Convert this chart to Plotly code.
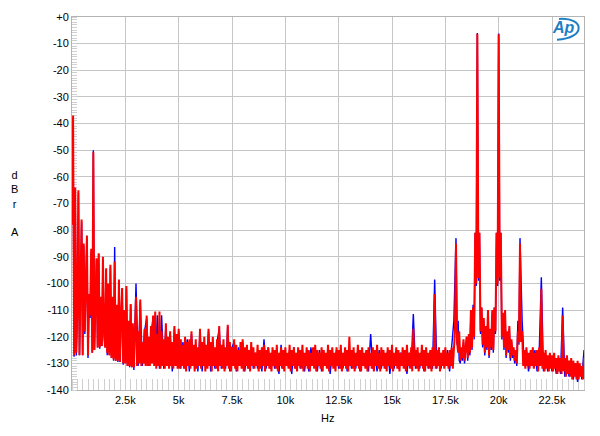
import plotly.graph_objects as go

# ---------------- data ----------------
# FFT frequency bins (Hz)
F_LOW = list(range(0, 3000, 50))          # shared low band
F_PEAK = list(range(18000, 21050, 50))    # shared band around the two tones
F_MID_R = list(range(3000, 18000, 50))    # red channel, fine bins
F_HIGH_R = list(range(21050, 24050, 50))
F_MID_B = list(range(3000, 18000, 100))   # blue channel, coarser bins
F_HIGH_B = list(range(21100, 24100, 100))

FREQ_RED = F_LOW + F_MID_R + F_PEAK + F_HIGH_R
FREQ_BLUE = F_LOW + F_MID_B + F_PEAK + F_HIGH_B

# red channel (dBrA)
RED_LOW = [
    -78, -37, -127, -64, -126, -110, -65, -127, -100, -76,
    -127, -85, -118, -95, -82, -127, -104, -112, -87, -126,
    -50.8, -125, -100, -90.6, -124, -88.7, -124, -105, -123.5, -90,
    -118, -124, -94.3, -126, -100, -127, -93, -128, -105, -128.5,
    -91.8, -129, -108, -129, -98.5, -129.5, -112, -101.7, -130, -110,
    -130, -101, -131, -114, -131, -107.7, -131.5, -115, -131.5, -112,
]
RED_MID = [
    -105, -131, -118, -130, -106, -131, -122, -130, -117, -131,
    -112, -131, -120, -131, -116, -130, -112, -131, -110.5, -132,
    -119, -131, -110.5, -132, -118, -131, -121, -132, -115, -131,
    -120, -132, -118, -131, -122, -132, -116, -131, -119, -132,
    -117, -132, -121, -131, -123, -132, -120, -133, -122, -131,
    -121, -132, -118, -131, -123, -133, -121, -132, -124, -131,
    -117, -132, -122, -131, -120, -133, -123, -132, -117, -131,
    -122, -133, -120, -131, -124, -132, -121, -133, -116, -131,
    -123, -132, -121, -133, -124, -131, -115.5, -132, -122, -133,
    -124, -131, -121, -132, -123, -133, -125, -131, -122, -132,
    -121, -133, -124, -131, -123, -132, -125, -133, -122, -131,
    -124, -132, -126, -131, -123, -133, -125, -132, -124, -131,
    -123, -133, -125, -131, -124, -132, -126, -133, -124, -131,
    -125, -132, -123, -133, -126, -131, -124, -132, -125, -133,
    -124, -131, -126, -132, -123, -133, -125, -131, -124, -132,
    -126, -133, -124, -131, -125, -132, -123, -133, -126, -131,
    -124, -132, -125, -133, -126, -131, -124, -132, -123, -133,
    -125, -131, -126, -132, -124, -133, -125, -131, -126, -132,
    -123, -133, -125, -131, -124, -132, -126, -133, -124, -131,
    -125, -132, -123, -133, -126, -131, -124, -132, -125, -133,
    -120, -131, -125, -132, -124, -133, -126, -131, -123, -132,
    -125, -133, -124, -131, -126, -132, -125, -133, -124, -131,
    -126, -132, -124, -133, -125, -131, -123, -132, -126, -133,
    -124, -131, -125, -132, -126, -133, -124, -131, -125, -132,
    -123, -133, -126, -131, -124, -132, -125, -133, -126, -131,
    -124, -132, -125, -133, -123, -131, -126, -132, -124, -133,
    -117, -131, -125, -132, -124, -133, -126, -131, -123, -132,
    -125, -133, -124, -131, -126, -132, -125, -133, -124, -131,
    -104, -132, -125, -131, -124, -133, -126, -131, -125, -132,
    -124, -131, -126, -132, -125, -131, -124, -132, -123, -118,
]
RED_PEAK = [
    -85, -122, -126, -118, -129, -124, -128, -121, -129, -125,
    -120, -128, -119, -126, -110, -124, -109, -120, -81, -100,
    -6.3, -98, -81, -118, -109, -123, -113, -126, -116, -124,
    -110, -127, -117, -124, -110, -125, -109, -118, -81, -100,
    -6.5, -98, -81, -120, -111, -124, -110, -127, -118, -125,
    -116, -128, -121, -127, -124, -129, -125, -130, -118, -122,
    -85,
]
RED_HIGH = [
    -122, -118, -131, -125, -132, -124, -131, -126, -132, -125,
    -131, -124, -132, -126, -131, -125, -133, -124, -131, -102,
    -132, -126, -133, -125, -132, -127, -133, -126, -132, -127,
    -133, -126, -132, -128, -134, -127, -133, -128, -134, -112,
    -133, -128, -135, -127, -134, -129, -135, -128, -136, -129,
    -135, -130, -136, -129, -136, -130, -135, -131, -136, -128,
]

# blue channel (dBrA)
BLUE_LOW = [
    -76, -38, -127.5, -65, -127, -111, -66, -127, -101, -77,
    -127, -86, -119, -96, -83, -128, -105, -113, -88, -126,
    -50, -125, -101, -91, -124, -89, -124.5, -106, -123.5, -91,
    -119, -124, -95, -127, -101, -127, -94, -128, -106, -129,
    -86.3, -129, -109, -129.5, -99, -129.5, -113, -102, -130.5, -111,
    -130, -102, -131, -115, -131.5, -108, -131.5, -116, -132.5, -113,
]
BLUE_MID = [
    -100, -131, -107, -131, -118, -113, -131, -119, -113, -130,
    -112, -132, -112, -132, -116, -131, -119, -133, -117, -131,
    -118, -132, -122, -132, -121, -133, -119, -131, -123, -133,
    -118, -133, -122, -131, -118, -133, -123, -132, -122, -117,
    -132, -123, -132, -116, -133, -124, -122, -133, -124, -131,
    -122, -133, -125, -132, -124, -132, -126, -132, -125, -133,
    -121, -132, -124, -132, -126, -132, -125, -134, -123, -132,
    -126, -131, -125, -134, -124, -132, -126, -132, -125, -133,
    -126, -133, -124, -131, -126, -133, -125, -133, -126, -131,
    -125, -134, -126, -131, -125, -132, -126, -132, -125, -133,
    -125, -132, -126, -132, -125, -133, -126, -131, -125, -133,
    -119, -132, -126, -133, -125, -132, -126, -132, -125, -134,
    -126, -132, -125, -132, -126, -131, -125, -134, -126, -131,
    -111.5, -132, -126, -132, -125, -133, -126, -132, -125, -132,
    -98.5, -132, -125, -132, -126, -131, -125, -133, -124, -114,
]
BLUE_PEAK = [
    -83, -123, -114, -129, -130, -125, -129, -122, -130, -126,
    -120, -129, -120, -127, -111, -125, -108, -121, -81, -101,
    -6, -99, -81, -119, -109, -124, -114, -127, -117, -125,
    -111, -128, -118, -125, -111, -126, -109, -119, -81, -101,
    -6.2, -99, -81, -121, -112, -125, -111, -128, -119, -126,
    -117, -129, -122, -128, -125, -130, -126, -131, -114, -123,
    -83,
]
BLUE_HIGH = [
    -114, -131, -125, -133, -126, -131, -125, -133, -126, -97.7,
    -133, -127, -133, -127, -133, -128, -134, -128, -134, -109,
    -135, -129, -135, -129, -136, -130, -137, -131, -136, -125,
]

RED = RED_LOW + RED_MID + RED_PEAK + RED_HIGH
BLUE = BLUE_LOW + BLUE_MID + BLUE_PEAK + BLUE_HIGH

X_TICKS = [2500, 5000, 7500, 10000, 12500, 15000, 17500, 20000, 22500]
X_LABELS = ["2.5k", "5k", "7.5k", "10k", "12.5k", "15k", "17.5k", "20k", "22.5k"]
Y_TICKS = [0, -10, -20, -30, -40, -50, -60, -70, -80, -90, -100, -110, -120, -130, -140]
Y_LABELS = ["+0", "-10", "-20", "-30", "-40", "-50", "-60", "-70", "-80", "-90",
            "-100", "-110", "-120", "-130", "-140"]

# ---------------- figure ----------------
FONT = "Liberation Sans, Arial, sans-serif"
GRID = "#c6c6c6"

fig = go.Figure()
fig.add_trace(go.Scatter(x=FREQ_BLUE, y=BLUE, mode="lines",
                         line=dict(color="#0000ff", width=1.4), showlegend=False))
fig.add_trace(go.Scatter(x=FREQ_RED, y=RED, mode="lines",
                         line=dict(color="#ff0000", width=2), showlegend=False))

fig.update_layout(
    width=600, height=436,
    margin=dict(l=72, r=16, t=11, b=46),
    paper_bgcolor="white", plot_bgcolor="white",
    font=dict(family=FONT, size=11, color="black"),
    hovermode=False,
    xaxis=dict(
        range=[0, 24000], tickmode="array", tickvals=X_TICKS, ticktext=X_LABELS,
        showgrid=True, gridcolor=GRID, gridwidth=1, zeroline=False,
        showline=True, linecolor="#b4b4b4", linewidth=1, mirror=True,
        ticks="", ticklen=0, tickfont=dict(size=11), layer="below traces",
        minor=dict(tickmode="linear", tick0=0, dtick=250, ticks="inside",
                   ticklen=11, tickwidth=1, tickcolor="#cfcfcf", showgrid=False),
    ),
    yaxis=dict(
        range=[-140, 0], tickmode="array", tickvals=Y_TICKS, ticktext=Y_LABELS,
        showgrid=True, gridcolor=GRID, gridwidth=1, zeroline=False,
        showline=True, linecolor="#b4b4b4", linewidth=1, mirror=True,
        ticks="", ticklen=0, tickfont=dict(size=11), layer="below traces",
        minor=dict(tickmode="linear", tick0=0, dtick=1, ticks="inside",
                   ticklen=5, tickwidth=1, tickcolor="#cfcfcf", showgrid=False),
    ),
)

fig.add_annotation(text="d<br>B<br>r<br><br>A", xref="paper", yref="paper",
                   x=(15 - 72) / 512, y=(390 - 201) / 379, showarrow=False,
                   font=dict(size=11, family=FONT), align="center",
                   xanchor="center", yanchor="middle")
fig.add_annotation(text="Hz", xref="paper", yref="paper",
                   x=(327 - 72) / 512, y=(390 - 418) / 379, showarrow=False,
                   font=dict(size=11, family=FONT), xanchor="center", yanchor="middle")

# Audio Precision logo
fig.add_annotation(text="<i><b>Ap</b></i>", xref="paper", yref="paper",
                   x=(563 - 72) / 512, y=(390 - 22) / 379, showarrow=False,
                   font=dict(size=16, family=FONT, color="#1f7fc6"),
                   xanchor="center", yanchor="middle")


def px(xp, yp):
    return f"{(xp - 72) / 512:.4f},{(390 - yp) / 379:.4f}"


fig.add_shape(type="path", xref="paper", yref="paper",
              path=f"M {px(559, 13)} C {px(585, 11)} {px(586, 33)} {px(557, 34)}",
              line=dict(color="#1f7fc6", width=2))

fig.write_html("out.html", config={"displayModeBar": False},
               post_script="document.body.style.margin='0px';")
